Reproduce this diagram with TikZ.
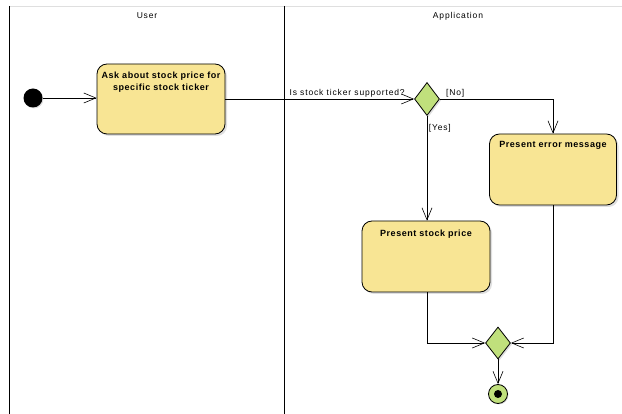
\documentclass[tikz,border=0pt]{standalone}
\usepackage{fontspec}
\setmainfont{Liberation Sans}
\newfontfamily\spacedfont[LetterSpace=10]{Liberation Sans}
\newfontfamily\boldspacedfont[LetterSpace=6]{Liberation Sans}
\usetikzlibrary{shapes.geometric, arrows.meta, shadows}

\definecolor{actfill}{RGB}{248,229,148}
\definecolor{decfill}{RGB}{192,224,124}

\tikzset{
	action/.style = {draw, thick, fill = actfill, rounded corners = 10pt,
		minimum width = 128pt, minimum height = 70pt,
		drop shadow = {shadow xshift = 2pt, shadow yshift = -2pt, opacity = 0.25}},
	acttext/.style = {font = \boldspacedfont\fontsize{9}{12}\selectfont\bfseries, align = center, inner sep = 1pt},
	decision/.style = {draw, thick, fill = decfill, diamond, inner sep = 0pt,
		minimum width = 25pt, minimum height = 33pt,
		drop shadow = {shadow xshift = 1.5pt, shadow yshift = -1.5pt, opacity = 0.25}},
	flow/.style = {-{Straight Barb[length = 12pt, width = 10pt]}, line width = 0.6pt},
	guard/.style = {font = \spacedfont\fontsize{8.5}{10}\selectfont, inner sep = 1.5pt}
}

\begin{document}
\begin{tikzpicture}[x = 1pt, y = -1pt]
	\def\xMAX{622};
	\def\yMAX{414};
	\useasboundingbox (0,0) rectangle (\xMAX,\yMAX);

	% swimlanes
	\begin{scope}
		\draw [gray!25] (9,6) -- (\xMAX,6);
		\draw [line width = 0.8pt] (9,6) -- (9,\yMAX);
		\draw [line width = 0.8pt] (284,6) -- (284,\yMAX);
		\node [guard] (user) at (147,16) {User};
		\node [guard] (app) at (458,16) {Application};
	\end{scope}

	% nodes
	\begin{scope}
		\node [circle, fill = black, minimum size = 19pt, inner sep = 0pt,
			drop shadow = {shadow xshift = 1pt, shadow yshift = -1pt, opacity = 0.25}] (start) at (33,98) {};
		\node [action] (ask) at (161,99) {};
		\node [acttext, anchor = north] (asktext) at ([yshift = -7pt] ask.north) {Ask about stock price for\\specific stock ticker};
		\node [decision] (check) at (427,99) {};
		\node [action, minimum width = 127pt, minimum height = 71pt] (error) at (553,169.5) {};
		\node [acttext, anchor = north] (errortext) at ([yshift = -7pt] error.north) {Present error message};
		\node [action, minimum width = 128pt, minimum height = 71pt] (price) at (426,256.5) {};
		\node [acttext, anchor = north] (pricetext) at ([yshift = -8pt] price.north) {Present stock price};
		\node [decision, minimum height = 32pt] (merge) at (498,343) {};
		\node [circle, draw, thick, fill = decfill, minimum size = 19pt, inner sep = 0pt,
			drop shadow = {shadow xshift = 1pt, shadow yshift = -1pt, opacity = 0.25}] (finish) at (498,394) {};
		\node [circle, fill = black, minimum size = 8pt, inner sep = 0pt] (finishdot) at (finish) {};
	\end{scope}

	% flows
	\begin{scope}
		\draw [flow] (start) -- (ask.west |- start);
		\draw [flow] (ask.east |- check) -- node [guard, above, pos = 0.645] {Is stock ticker supported?} (check.west);
		\draw [flow] (check.east) -| node [guard, above right, pos = 0.02] {[No]} (error.north);
		\draw [flow] (check.south) -- node [guard, right, pos = 0.12] {[Yes]} (check.south |- price.north);
		\draw [flow] (price.south -| check.south) |- (merge.west);
		\draw [flow] (error.south) |- (merge.east);
		\draw [flow] (merge.south) -- (finish.north);
	\end{scope}
\end{tikzpicture}
\end{document}
